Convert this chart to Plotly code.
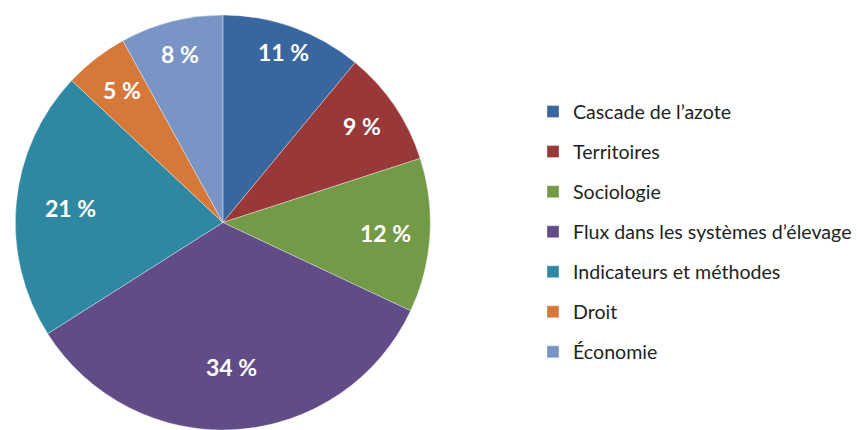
import math
import plotly.graph_objects as go

# categories and shares (%)
labels = ["Cascade de l’azote", "Territoires", "Sociologie",
          "Flux dans les systèmes d’élevage", "Indicateurs et méthodes",
          "Droit", "Économie"]
values = [11, 9, 12, 34, 21, 5, 8]
colors = ["#3A66A0", "#983838", "#729A47", "#614C87", "#2F88A2", "#D6783A", "#7895C6"]

# how far out (fraction of radius) each percentage label sits on its slice bisector
label_r = [0.875, 0.825, 0.80, 0.70, 0.75, 0.81, 0.84]

W, H = 857, 430
margin = dict(l=0, r=0, t=15, b=0)
pie_x = [0.005, 0.525]

# legend text is wrapped in a span so the row spacing can follow the big legend font
legend_labels = ['<span style="font-size:19.6px;baseline-shift:4px">%s</span>' % lab for lab in labels]

fig = go.Figure()

fig.add_trace(go.Pie(
    labels=legend_labels,
    values=values,
    sort=False,
    direction="clockwise",
    rotation=0,
    marker=dict(colors=colors, line=dict(color="rgba(255,255,255,0.6)", width=0.6)),
    textinfo="none",
    domain=dict(x=pie_x, y=[0, 1]),
    hoverinfo="skip",
))

# percentage labels on the slice bisectors
plot_w = W - margin["l"] - margin["r"]
plot_h = H - margin["t"] - margin["b"]
radius = min(plot_w * (pie_x[1] - pie_x[0]), plot_h) / 2
cx = (pie_x[0] + pie_x[1]) / 2
cy = 0.5
total = sum(values)
cum = 0
for v, r in zip(values, label_r):
    ang = 2 * math.pi * (cum + v / 2) / total
    cum += v
    fig.add_annotation(
        x=cx + r * radius * math.sin(ang) / plot_w,
        y=cy + r * radius * math.cos(ang) / plot_h,
        xref="paper", yref="paper",
        xanchor="center", yanchor="middle",
        text=f"{v} %",
        showarrow=False,
        font=dict(family="Lato", size=23, color="white", weight="bold"),
    )

fig.update_layout(
    width=W,
    height=H,
    margin=margin,
    paper_bgcolor="white",
    plot_bgcolor="white",
    font=dict(family="Lato", color="#231F20"),
    showlegend=True,
    legend=dict(
        x=0.634, y=0.477,
        xanchor="left", yanchor="middle",
        font=dict(size=28.5, color="#231F20"),
        bgcolor="rgba(0,0,0,0)",
    ),
)

fig.write_html("out.html", config={"displayModeBar": False},
               post_script="document.body.style.margin='0';")
